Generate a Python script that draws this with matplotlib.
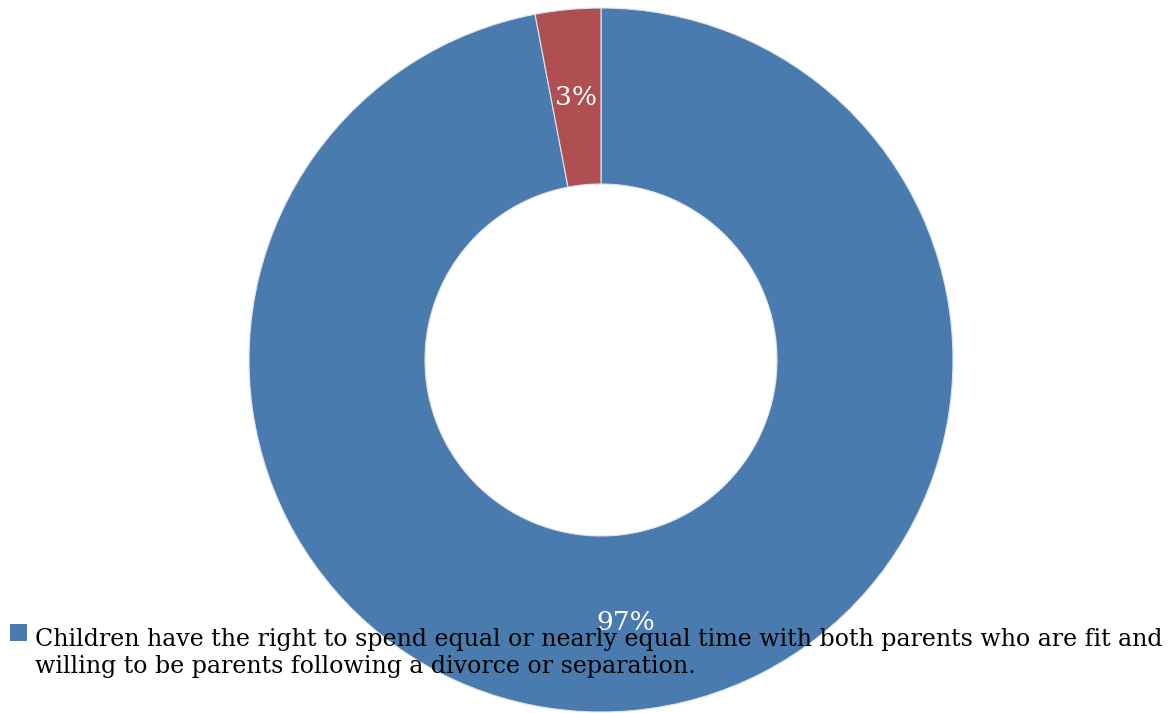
import matplotlib.pyplot as plt
from matplotlib.patches import Rectangle

# Data
labels = ["Children have the right to spend equal or nearly equal time with both parents who are fit and\n"
          "willing to be parents following a divorce or separation.", ""]
values = [97, 3]
colors = ['#4A7BAE', '#B04F51']

plt.rcParams['font.family'] = 'DejaVu Serif'

W, H = 1174, 713
fig = plt.figure(figsize=(W / 100, H / 100), dpi=100)
ax = fig.add_axes([249 / W, 1 / H, 704 / W, 704 / H])

wedges, texts, autotexts = ax.pie(
    values, colors=colors, startangle=90, counterclock=False,
    autopct='%1.0f%%', pctdistance=0.75,
    wedgeprops=dict(width=0.5, edgecolor='#DDE4EE', linewidth=0.8),
    textprops=dict(color='white', fontsize=19))
ax.set_xlim(-1, 1)
ax.set_ylim(-1, 1)
ax.set_aspect('equal')

# legend drawn by hand (only the first entry is shown, marker at top line)
fig.patches.append(Rectangle((10 / W, (H - 641) / H), 17 / W, 17 / H,
                             transform=fig.transFigure, facecolor=wedges[0].get_facecolor(),
                             edgecolor='none', zorder=5))
fig.text(35 / W, (H - 673) / H, labels[0], fontsize=17.1, color='black',
         ha='left', va='baseline', linespacing=1.22, zorder=5)

fig.savefig('out.png', dpi=100, facecolor='white')
